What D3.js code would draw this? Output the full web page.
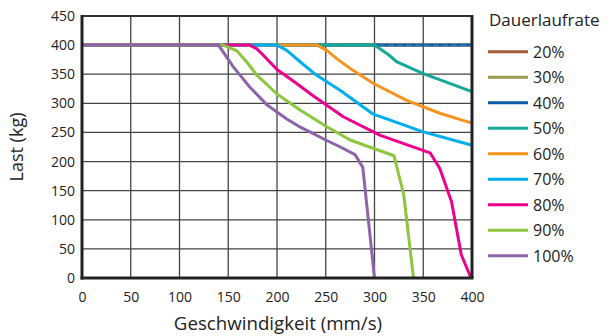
<!DOCTYPE html>
<html>
<head>
<meta charset="utf-8">
<script src="https://cdn.jsdelivr.net/npm/d3@7"></script>
<style>
  html, body { margin: 0; padding: 0; background: #fff; }
  svg { display: block; font-family: "Open Sans", "Noto Sans", sans-serif; }
</style>
</head>
<body>
<svg id="chart" width="612" height="336"></svg>
<script>
// Load curves [Geschwindigkeit mm/s, Last kg] per duty-cycle rating
const rate20 = [[0, 400], [400, 400]];
const rate30 = [[0, 400], [400, 400]];
const rate40 = [[0, 400], [400, 400]];
const rate50 = [[0, 400], [300, 400], [314, 384], [323, 371], [350, 351], [400, 320]];
const rate60 = [[0, 400], [241, 400], [251, 391], [262, 376], [275, 360], [299, 334], [333, 305], [367, 283], [400, 266]];
const rate70 = [[0, 400], [200, 400], [210, 391], [224, 371], [240, 349], [265, 322], [298, 282], [350, 251], [400, 228]];
const rate80 = [[0, 400], [172, 400], [179, 394], [184, 386], [200, 358], [217, 338], [237, 313], [268, 277], [306, 245], [357, 215], [367, 188], [379, 131], [389, 40], [399, 0]];
const rate90 = [[0, 400], [145, 400], [152, 395], [159, 390], [169, 371], [179, 349], [200, 316], [224, 288], [252, 259], [275, 237], [320, 210], [330, 143], [340, 0]];
const rate100 = [[0, 400], [140, 400], [155, 363], [172, 328], [190, 297], [210, 273], [224, 259], [250, 237], [265, 225], [280, 212], [288, 190], [300, 0]];

const seriesNames = ["20%", "30%", "40%", "50%", "60%", "70%", "80%", "90%", "100%"];
const seriesData = [rate20, rate30, rate40, rate50, rate60, rate70, rate80, rate90, rate100];
const seriesColors = ["#a65a35", "#9c9a4c", "#0b5ca8", "#14a899", "#f7941d", "#00aeef", "#ec008c", "#8dc63f", "#8e63aa"];

const xTicks = [0, 50, 100, 150, 200, 250, 300, 350, 400];
const yTicks = [0, 50, 100, 150, 200, 250, 300, 350, 400, 450];

const legendTitle = "Dauerlaufrate";
const xTitle = "Geschwindigkeit (mm/s)";
const yTitle = "Last (kg)";

const svg = d3.select("#chart");
const plotL = 82, plotR = 472, plotT = 16, plotB = 278;

const x = d3.scaleLinear().domain([0, 400]).range([plotL, plotR]);
const y = d3.scaleLinear().domain([0, 450]).range([plotB, plotT]);

// grid
const grid = svg.append("g");
grid.selectAll("line.v").data(xTicks.slice(1, -1)).join("line")
  .attr("x1", d => x(d)).attr("x2", d => x(d))
  .attr("y1", plotT).attr("y2", plotB)
  .attr("stroke", "#444").attr("stroke-width", 1.3);
grid.selectAll("line.h").data(yTicks.slice(1, -1)).join("line")
  .attr("x1", plotL).attr("x2", plotR)
  .attr("y1", d => y(d)).attr("y2", d => y(d))
  .attr("stroke", "#444").attr("stroke-width", 1.3);

// axes with tick labels
const xAxis = svg.append("g").attr("transform", `translate(0,${plotB})`)
  .call(d3.axisBottom(x).tickValues(xTicks).tickSize(0).tickPadding(14));
const yAxis = svg.append("g").attr("transform", `translate(${plotL},0)`)
  .call(d3.axisLeft(y).tickValues(yTicks).tickSize(0).tickPadding(7));
[xAxis, yAxis].forEach(a => {
  a.select(".domain").remove();
  a.selectAll("text").attr("font-size", 14).attr("fill", "#222")
    .attr("font-family", "'Open Sans', sans-serif");
});

// curves, 20% first so that higher duty rates sit on top
const line = d3.line().x(d => x(d[0])).y(d => y(d[1]));
const curves = svg.append("g");
seriesData.forEach((data, i) => {
  curves.append("path").datum(data)
    .attr("d", line)
    .attr("fill", "none")
    .attr("stroke", seriesColors[i])
    .attr("stroke-width", 3)
    .attr("stroke-linejoin", "round");
  if (seriesNames[i] === "40%") {
    // light centre dashes on the 40% line
    curves.append("path").datum(data)
      .attr("d", line)
      .attr("fill", "none")
      .attr("stroke", "#4a86c8")
      .attr("stroke-width", 1)
      .attr("stroke-dasharray", "6,3");
  }
});

// frame
svg.append("line").attr("x1", plotL).attr("x2", plotR).attr("y1", plotT).attr("y2", plotT)
  .attr("stroke", "#333").attr("stroke-width", 2);
svg.append("line").attr("x1", plotR).attr("x2", plotR).attr("y1", plotT - 1).attr("y2", plotB)
  .attr("stroke", "#222").attr("stroke-width", 3);
svg.append("line").attr("x1", plotL).attr("x2", plotL).attr("y1", plotT - 1).attr("y2", plotB + 1.5)
  .attr("stroke", "#222").attr("stroke-width", 3);
svg.append("line").attr("x1", plotL - 1.5).attr("x2", plotR + 1.5).attr("y1", plotB).attr("y2", plotB)
  .attr("stroke", "#222").attr("stroke-width", 3);

// axis titles
svg.append("text").attr("x", (plotL + plotR) / 2 + 1).attr("y", 330)
  .attr("text-anchor", "middle").attr("font-size", 18.7).attr("fill", "#222")
  .text(xTitle);
svg.append("text").attr("transform", `translate(23,${(plotT + plotB) / 2}) rotate(-90)`)
  .attr("text-anchor", "middle").attr("font-size", 18).attr("fill", "#222")
  .text(yTitle);

// legend
const legend = svg.append("g");
legend.append("text").attr("x", 489).attr("y", 26)
  .attr("font-size", 17).attr("fill", "#222").text(legendTitle);
const rows = legend.selectAll("g.row").data(seriesNames).join("g")
  .attr("transform", (d, i) => `translate(0,${51.7 + i * 25.5})`);
rows.append("line").attr("x1", 488).attr("x2", 528).attr("y1", 0).attr("y2", 0)
  .attr("stroke", (d, i) => seriesColors[i]).attr("stroke-width", 3);
rows.append("text").attr("x", 533).attr("y", 6)
  .attr("font-size", 16).attr("fill", "#222").text(d => d);
</script>
</body>
</html>
